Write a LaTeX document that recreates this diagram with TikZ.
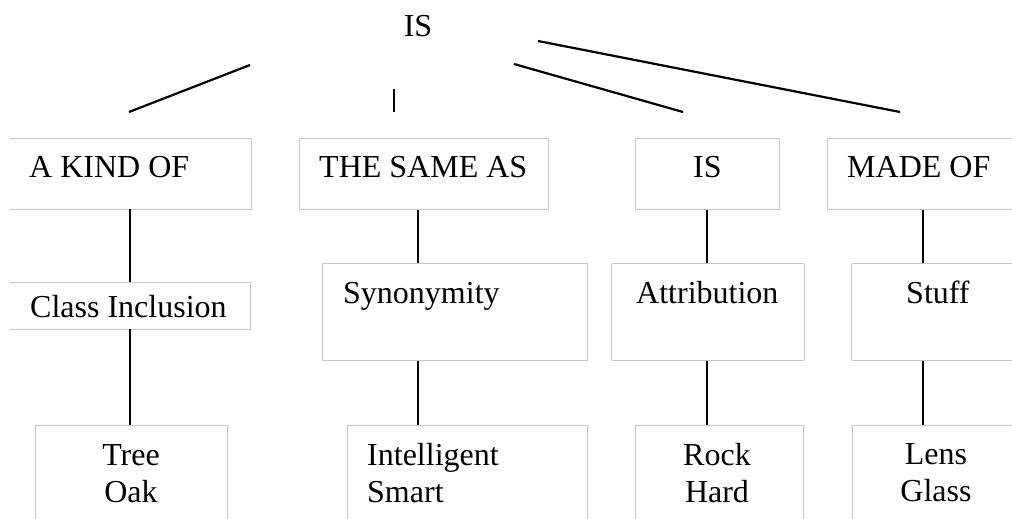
\documentclass[tikz,border=0pt]{standalone}
\usepackage{fontspec}
\setmainfont{Liberation Serif}
\definecolor{boxgray}{RGB}{200,200,200}
\begin{document}
\begin{tikzpicture}[x=1pt,y=-1pt,
  box/.style={draw=boxgray, line width=1pt, anchor=north west, inner sep=0pt},
  openbox/.style={draw=none, anchor=north west, inner sep=0pt},
  edge/.style={draw=boxgray, line width=1pt},
  word/.style={font=\fontsize{32}{37}\selectfont, inner sep=0pt, anchor=base west},
  words/.style={font=\fontsize{32}{37}\selectfont, inner sep=0pt, anchor=north},
  link/.style={line width=2.2pt, line cap=butt}]
\useasboundingbox (0,0) rectangle (1012,519);
\clip (0,0) rectangle (1012,519);

% column positions of the vertical connectors
\coordinate (c1) at (130,0);
\coordinate (c2) at (418,0);
\coordinate (c3) at (707,0);
\coordinate (c4) at (923,0);

% top label and its fan of strokes
\node[font=\fontsize{32}{37}\selectfont, inner sep=0pt, anchor=base] (root) at (418,37) {IS};
\coordinate (f1a) at (129,112);  \coordinate (f1b) at (250,65);
\coordinate (f2a) at (394,112);  \coordinate (f2b) at (394,89);
\coordinate (f3a) at (683,112);  \coordinate (f3b) at (514,64);
\coordinate (f4a) at (900,112);  \coordinate (f4b) at (538,41);
\draw[link] (f1a) -- (f1b);
\draw[link] (f2a) -- (f2b);
\draw[link] (f3a) -- (f3b);
\draw[link] (f4a) -- (f4b);

% first row of boxes
\node[openbox, minimum width=241, minimum height=71] (bAkind) at (10,138) {};
\draw[edge] (bAkind.north west) -- (bAkind.north east) -- (bAkind.south east) -- (bAkind.south west);
\node[box, minimum width=249, minimum height=71] (bSame) at (299,138) {};
\node[box, minimum width=144, minimum height=71] (bIs)   at (635,138) {};
\node[box, minimum width=200, minimum height=71] (bMade) at (827,138) {};

\node[word] (tAkind) at (29,177)  {A KIND OF};
\node[word] (tSame)  at (319,177) {THE SAME AS};
\node[word] (tIs)    at (693,177) {IS};
\node[word] (tMade)  at (847,177) {MADE OF};

% second row of boxes
\node[openbox, minimum width=240, minimum height=47] (bCls) at (10,282) {};
\draw[edge] (bCls.north west) -- (bCls.north east) -- (bCls.south east) -- (bCls.south west);
\node[box, minimum width=265, minimum height=97] (bSyn)   at (322,263) {};
\node[box, minimum width=193, minimum height=97] (bAttr)  at (611,263) {};
\node[box, minimum width=180, minimum height=97] (bStuff) at (851,263) {};

\node[word] (tCls)   at (30,317)  {Class Inclusion};
\node[word] (tSyn)   at (343,303) {Synonymity};
\node[word] (tAttr)  at (636,303) {Attribution};
\node[word] (tStuff) at (906,303) {Stuff};

% bottom row of boxes
\node[box, minimum width=192, minimum height=110] (bTree)  at (35,425)  {};
\node[box, minimum width=240, minimum height=110] (bIntel) at (347,425) {};
\node[box, minimum width=168, minimum height=110] (bRock)  at (635,425) {};
\node[box, minimum width=180, minimum height=110] (bLens)  at (852,425) {};

\node[words, align=center] (tTree)  at (131,444) {Tree\\Oak};
\node[words, align=left, anchor=north west] (tIntel) at (367,443) {Intelligent\\Smart};
\node[words, align=center] (tRock)  at (717,443) {Rock\\Hard};
\node[words, align=center] (tLens)  at (936,443) {Lens\\Glass};

% vertical connectors
\draw[link] (bAkind.south -| c1) -- (bCls.north -| c1);
\draw[link] (bCls.south -| c1)   -- (bTree.north -| c1);
\draw[link] (bSame.south -| c2)  -- (bSyn.north -| c2);
\draw[link] (bSyn.south -| c2)   -- (bIntel.north -| c2);
\draw[link] (bIs.south -| c3)    -- (bAttr.north -| c3);
\draw[link] (bAttr.south -| c3)  -- (bRock.north -| c3);
\draw[link] (bMade.south -| c4)  -- (bStuff.north -| c4);
\draw[link] (bStuff.south -| c4) -- (bLens.north -| c4);
\end{tikzpicture}
\end{document}
